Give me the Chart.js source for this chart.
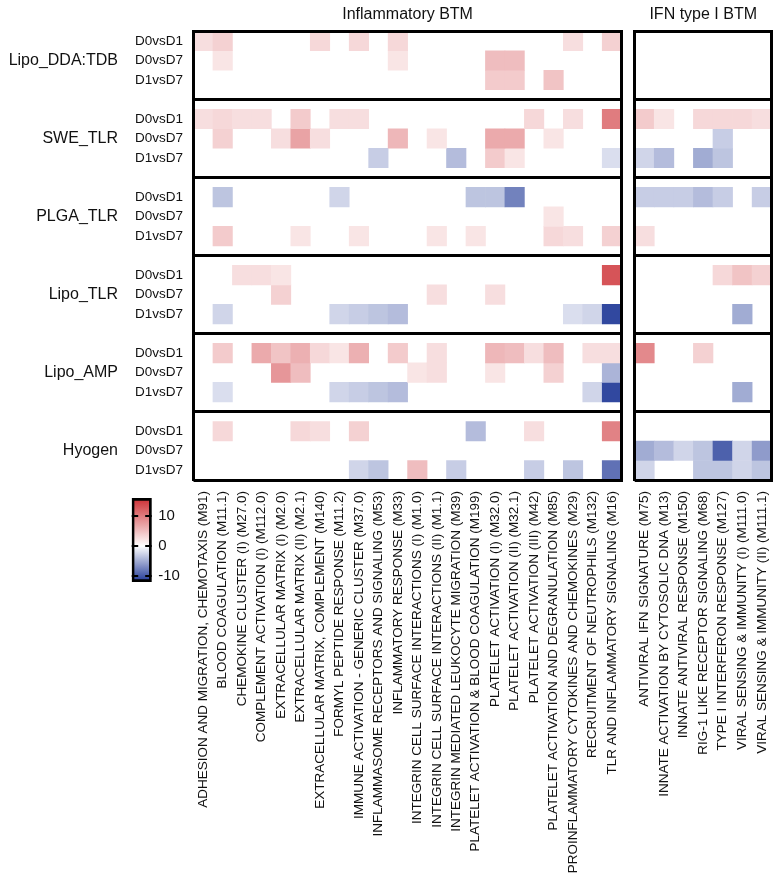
<!DOCTYPE html>
<html>
<head>
<meta charset="utf-8">
<script src="https://cdn.jsdelivr.net/npm/chart.js@4.4.1/dist/chart.umd.min.js"></script>
<style>
  body { margin: 0; background: #fff; }
  canvas { position: absolute; }
</style>
</head>
<body>
<canvas id="inflChart" width="628" height="884" style="left:0;top:0"></canvas>
<canvas id="ifnChart" width="149" height="884" style="left:628px;top:0"></canvas>
<canvas id="scaleChart" width="90" height="104" style="left:110px;top:488px"></canvas>
<script>
// row groups and comparisons (each group = 3 rows + 1 spacer slot)
const groups = ['Lipo_DDA:TDB', 'SWE_TLR', 'PLGA_TLR', 'Lipo_TLR', 'Lipo_AMP', 'Hyogen'];
const comparisons = ['D0vsD1', 'D0vsD7', 'D1vsD7'];

const inflammatoryModules = [
  'ADHESION AND MIGRATION, CHEMOTAXIS (M91)',
  'BLOOD COAGULATION (M11.1)',
  'CHEMOKINE CLUSTER (I) (M27.0)',
  'COMPLEMENT ACTIVATION (I) (M112.0)',
  'EXTRACELLULAR MATRIX (I) (M2.0)',
  'EXTRACELLULAR MATRIX (II) (M2.1)',
  'EXTRACELLULAR MATRIX, COMPLEMENT (M140)',
  'FORMYL PEPTIDE RESPONSE (M11.2)',
  'IMMUNE ACTIVATION - GENERIC CLUSTER (M37.0)',
  'INFLAMMASOME RECEPTORS AND SIGNALING (M53)',
  'INFLAMMATORY RESPONSE (M33)',
  'INTEGRIN CELL SURFACE INTERACTIONS (I) (M1.0)',
  'INTEGRIN CELL SURFACE INTERACTIONS (II) (M1.1)',
  'INTEGRIN MEDIATED LEUKOCYTE MIGRATION (M39)',
  'PLATELET ACTIVATION & BLOOD COAGULATION (M199)',
  'PLATELET ACTIVATION (I) (M32.0)',
  'PLATELET ACTIVATION (II) (M32.1)',
  'PLATELET ACTIVATION (III) (M42)',
  'PLATELET ACTIVATION AND DEGRANULATION (M85)',
  'PROINFLAMMATORY CYTOKINES AND CHEMOKINES (M29)',
  'RECRUITMENT OF NEUTROPHILS (M132)',
  'TLR AND INFLAMMATORY SIGNALING (M16)'
];

const ifnModules = [
  'ANTIVIRAL IFN SIGNATURE (M75)',
  'INNATE ACTIVATION BY CYTOSOLIC DNA (M13)',
  'INNATE ANTIVIRAL RESPONSE (M150)',
  'RIG-1 LIKE RECEPTOR SIGNALING (M68)',
  'TYPE I INTERFERON RESPONSE (M127)',
  'VIRAL SENSING & IMMUNITY (I) (M111.0)',
  'VIRAL SENSING & IMMUNITY (II) (M111.1)'
];

// colour scale
const colorTicks = [-10, 0, 10];
const colorMin = -12;
const colorMax = 16;

// scores, rows: D0vsD1, D0vsD7, D1vsD7 (0 = not significant)
const inflLipoDDA = [
  [2.5, 3.5, 0, 0, 0, 0, 3, 0, 3, 0, 3, 0, 0, 0, 0, 0, 0, 0, 0, 2.5, 0, 3.5],
  [0, 2, 0, 0, 0, 0, 0, 0, 0, 0, 2, 0, 0, 0, 0, 5, 5, 0, 0, 0, 0, 0],
  [0, 0, 0, 0, 0, 0, 0, 0, 0, 0, 0, 0, 0, 0, 0, 4, 4, 0, 4.5, 0, 0, 0]
];
const inflSWE = [
  [2.5, 3, 2.5, 2.5, 0, 4, 0, 2.5, 2.5, 0, 0, 0, 0, 0, 0, 0, 0, 3, 0, 2.5, 0, 10],
  [0, 3.5, 0, 0, 2.5, 7, 2.5, 0, 0, 0, 5.5, 0, 2, 0, 0, 6.5, 6.5, 0, 2, 0, 0, 0],
  [0, 0, 0, 0, 0, 0, 0, 0, 0, -3, 0, 0, 0, -4, 0, 4, 2, 0, 0, 0, 0, -2]
];
const inflPLGA = [
  [0, -3.5, 0, 0, 0, 0, 0, -2.5, 0, 0, 0, 0, 0, 0, -3.5, -3.5, -7.5, 0, 0, 0, 0, 0],
  [0, 0, 0, 0, 0, 0, 0, 0, 0, 0, 0, 0, 0, 0, 0, 0, 0, 0, 2, 0, 0, 0],
  [0, 4, 0, 0, 0, 2, 0, 0, 2, 0, 0, 0, 2, 0, 2, 0, 0, 0, 3, 2.5, 0, 3.5]
];
const inflLipoTLR = [
  [0, 0, 2.5, 2.5, 2, 0, 0, 0, 0, 0, 0, 0, 0, 0, 0, 0, 0, 0, 0, 0, 0, 13],
  [0, 0, 0, 0, 3.5, 0, 0, 0, 0, 0, 0, 0, 2.5, 0, 0, 2.5, 0, 0, 0, 0, 0, 0],
  [0, -2.5, 0, 0, 0, 0, 0, -2.5, -3, -3.5, -4, 0, 0, 0, 0, 0, 0, 0, 0, -2, -2.5, -11]
];
const inflLipoAMP = [
  [0, 4, 0, 6.5, 4.5, 6, 3, 2, 6, 0, 4, 0, 2.5, 0, 0, 5.5, 5, 2.5, 5, 0, 2.5, 2.5],
  [0, 0, 0, 0, 8, 5, 0, 0, 0, 0, 0, 2, 2.5, 0, 0, 2, 0, 0, 3.5, 0, 0, -4.5],
  [0, -2, 0, 0, 0, 0, 0, -2.5, -3, -3.5, -4, 0, 0, 0, 0, 0, 0, 0, 0, 0, -2.5, -11]
];
const inflHyogen = [
  [0, 3, 0, 0, 0, 3, 2.5, 0, 3.5, 0, 0, 0, 0, 0, -4, 0, 0, 2.5, 0, 0, 0, 9.5],
  [0, 0, 0, 0, 0, 0, 0, 0, 0, 0, 0, 0, 0, 0, 0, 0, 0, 0, 0, 0, 0, 0],
  [0, 0, 0, 0, 0, 0, 0, 0, -2.5, -3.5, 0, 5, 0, -3, 0, 0, 0, -3, 0, -3.5, 0, -8.5]
];

const ifnLipoDDA = [[0, 0, 0, 0, 0, 0, 0], [0, 0, 0, 0, 0, 0, 0], [0, 0, 0, 0, 0, 0, 0]];
const ifnSWE = [[4, 2, 0, 3, 3, 3, 2.5], [0, 0, 0, 0, -3, 0, 0], [-2.5, -4, 0, -5, -3.5, 0, 0]];
const ifnPLGA = [[-3, -3, -3, -4, -3, 0, -3], [0, 0, 0, 0, 0, 0, 0], [2.5, 0, 0, 0, 0, 0, 0]];
const ifnLipoTLR = [[0, 0, 0, 0, 3, 4.5, 3.5], [0, 0, 0, 0, 0, 0, 0], [0, 0, 0, 0, 0, -5, 0]];
const ifnLipoAMP = [[9, 0, 0, 3.5, 0, 0, 0], [0, 0, 0, 0, 0, 0, 0], [0, 0, 0, 0, 0, -5, 0]];
const ifnHyogen = [[0, 0, 0, 0, 0, 0, 0], [-5, -4, -2.5, -3.5, -9.5, -2.5, -6], [-2.5, 0, 0, -3.5, -3.5, -2.5, -3.5]];

const inflBlocks = [inflLipoDDA, inflSWE, inflPLGA, inflLipoTLR, inflLipoAMP, inflHyogen];
const ifnBlocks = [ifnLipoDDA, ifnSWE, ifnPLGA, ifnLipoTLR, ifnLipoAMP, ifnHyogen];

Chart.defaults.font.family = "'Liberation Sans', Arial, Helvetica, sans-serif";
Chart.defaults.color = '#111';

const nSlots = groups.length * 4 - 1;
const rowSlots = [];
groups.forEach((g, gi) => comparisons.forEach((c, ci) => rowSlots.push(gi * 4 + ci)));
const sepValues = [0];
groups.forEach((g, gi) => sepValues.push(gi < groups.length - 1 ? gi * 4 + 3.5 : nSlots));

function colorFor(v) {
  if (!v) return 'rgba(255,255,255,0)';
  const end = v > 0 ? [205, 45, 50] : [30, 55, 150];
  const t = Math.min(Math.abs(v) / (v > 0 ? colorMax : -colorMin), 1);
  const c = end.map(e => Math.round(255 + (e - 255) * t));
  return 'rgb(' + c.join(',') + ')';
}

function heatDatasets(blocks) {
  const sets = [];
  blocks.forEach((rows, g) => rows.forEach((vals, r) => {
    const slot = g * 4 + r;
    sets.push({
      label: groups[g] + ' ' + comparisons[r],
      data: vals.map(v => v ? [slot, slot + 1] : null),
      backgroundColor: vals.map(colorFor),
      borderWidth: 0,
      barPercentage: 1,
      categoryPercentage: 1,
      grouped: false
    });
  }));
  return sets;
}

function slotAxis(extra) {
  return Object.assign({ type: 'linear', min: 0, max: nSlots, reverse: true }, extra);
}

function noPad(s) {
  s.paddingTop = 0; s.paddingBottom = 0; s.paddingLeft = 0; s.paddingRight = 0;
}

function moduleAxis() {
  return {
    type: 'category',
    grid: { display: false, drawTicks: false },
    border: { display: false },
    ticks: { autoSkip: false, minRotation: 90, maxRotation: 90, padding: 11, font: { size: 13.5 } },
    afterFit: s => { s.height = 404; noPad(s); }
  };
}

function sepAxis() {
  return slotAxis({
    position: 'right',
    grid: { color: '#000', lineWidth: 3, drawTicks: false, z: 1 },
    border: { display: true, color: '#000', width: 3, z: 1 },
    ticks: { display: false },
    afterBuildTicks: s => { s.ticks = sepValues.map(v => ({ value: v })); },
    afterFit: s => { s.width = 0; noPad(s); }
  });
}

function titleOpts(text) {
  return {
    display: true, text: text, fullSize: false, color: '#111',
    font: { size: 16, weight: 'normal' },
    padding: { top: 5, bottom: 7 }
  };
}

// Inflammatory BTM panel
new Chart(document.getElementById('inflChart'), {
  type: 'bar',
  data: { labels: inflammatoryModules, datasets: heatDatasets(inflBlocks) },
  options: {
    responsive: false,
    animation: false,
    layout: { padding: { right: 6.3 } },
    plugins: { legend: { display: false }, tooltip: { enabled: false }, title: titleOpts('Inflammatory BTM') },
    scales: {
      x: moduleAxis(),
      y: slotAxis({
        position: 'left',
        weight: 0,
        grid: { display: false, drawTicks: false },
        border: { display: true, color: '#000', width: 3, z: 1 },
        ticks: { autoSkip: false, padding: 10.5, font: { size: 13.5 }, callback: (v, i) => comparisons[i % 3] },
        afterBuildTicks: s => { s.ticks = rowSlots.map(v => ({ value: v + 0.5 })); },
        afterFit: s => { s.width = 71.5; noPad(s); }
      }),
      group: slotAxis({
        position: 'left',
        weight: 1,
        grid: { display: false, drawTicks: false },
        border: { display: false },
        ticks: { autoSkip: false, padding: 4, font: { size: 16 }, callback: (v, i) => groups[i] },
        afterBuildTicks: s => { s.ticks = groups.map((g, i) => ({ value: i * 4 + 1.5 })); },
        afterFit: s => { s.width = 122; noPad(s); }
      }),
      sep: sepAxis()
    }
  }
});

// IFN type I BTM panel
new Chart(document.getElementById('ifnChart'), {
  type: 'bar',
  data: { labels: ifnModules, datasets: heatDatasets(ifnBlocks) },
  options: {
    responsive: false,
    animation: false,
    layout: { padding: { right: 5.3 } },
    plugins: { legend: { display: false }, tooltip: { enabled: false }, title: titleOpts('IFN type I BTM') },
    scales: {
      x: moduleAxis(),
      y: slotAxis({
        position: 'left',
        grid: { display: false, drawTicks: false },
        border: { display: true, color: '#000', width: 3, z: 1 },
        ticks: { display: false },
        afterFit: s => { s.width = 6.7; noPad(s); }
      }),
      sep: sepAxis()
    }
  }
});

// colour scale bar
function colorbarFill(context) {
  const chart = context.chart;
  if (!chart.chartArea) return null;
  const y = chart.scales.y;
  const g = chart.ctx.createLinearGradient(0, y.getPixelForValue(colorMin), 0, y.getPixelForValue(colorMax));
  const steps = colorMax - colorMin;
  for (let i = 0; i <= steps; i++) {
    const v = colorMin + i;
    g.addColorStop(i / steps, v === 0 ? '#fff' : colorFor(v));
  }
  return g;
}

new Chart(document.getElementById('scaleChart'), {
  type: 'bar',
  data: {
    labels: [''],
    datasets: [{
      data: [[colorMin, colorMax]],
      backgroundColor: colorbarFill,
      borderColor: '#000',
      borderWidth: 3,
      borderSkipped: false,
      barPercentage: 1,
      categoryPercentage: 1
    }]
  },
  options: {
    responsive: false,
    animation: false,
    layout: { padding: { left: 21.7, top: 10, bottom: 10 } },
    plugins: { legend: { display: false }, tooltip: { enabled: false } },
    scales: {
      x: { display: false },
      y: {
        position: 'right',
        min: colorMin,
        max: colorMax,
        grid: { color: '#000', lineWidth: 2, drawTicks: false, z: 1 },
        border: { display: false, dash: [6.5, 7] },
        ticks: { padding: 6.5, font: { size: 15 } },
        afterBuildTicks: s => { s.ticks = colorTicks.map(v => ({ value: v })); },
        afterFit: s => { s.width = 48.3; noPad(s); }
      }
    }
  }
});
</script>
</body>
</html>
